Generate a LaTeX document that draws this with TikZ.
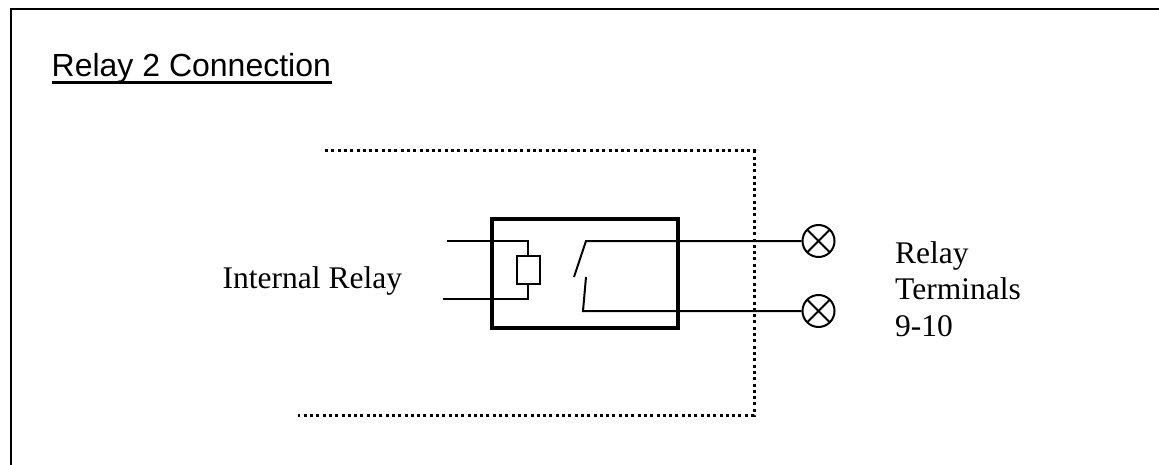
\documentclass[tikz,border=0pt]{standalone}
\usepackage{fontspec}
\setmainfont{Liberation Serif}
\newfontfamily\arialfont{Liberation Sans}
\begin{document}
\begin{tikzpicture}[x=1pt,y=-1pt,
  wire/.style={line width=2pt},
  framepen/.style={line width=2pt},
  relaybox/.style={line width=4.2pt},
  dotline/.style={line width=3pt,dash pattern=on 3pt off 3.3pt},
  terminal/.style={circle,draw,line width=2pt,minimum size=32pt,inner sep=0pt,
    path picture={\draw[line width=2pt]
      ([xshift=-13pt,yshift=13pt]path picture bounding box.center) -- ([xshift=13pt,yshift=-13pt]path picture bounding box.center)
      ([xshift=-13pt,yshift=-13pt]path picture bounding box.center) -- ([xshift=13pt,yshift=13pt]path picture bounding box.center);}},
  coil/.style={draw,line width=2pt,minimum width=23pt,minimum height=28pt,inner sep=0pt},
  label/.style={font=\fontsize{31.5}{36.5}\selectfont,inner sep=0pt,align=left}
]
\useasboundingbox (0,0) rectangle (1159,465);
% outer frame (top and left edges)
\coordinate (fbl) at (10.5,465);
\coordinate (ftl) at (10.5,9.5);
\coordinate (ftr) at (1159,9.5);
\draw[framepen] (fbl) -- (ftl) -- (ftr);
% title
\node[anchor=base west,inner sep=0pt,font=\arialfont\fontsize{32}{37}\selectfont] (title) at (51.5,77) {Relay 2 Connection};
\coordinate (ul1) at (51.5,82.5);
\coordinate (ul2) at (331.5,82.5);
\draw[line width=2.2pt] (ul1) -- (ul2);
% dotted enclosure
\coordinate (d1) at (325,151);
\coordinate (d2) at (754,151);
\coordinate (d3) at (754,415);
\coordinate (d4) at (298,415);
\draw[dotline] (d1) -- (d2) -- (d3) -- (d4);
% relay box
\coordinate (rb1) at (492,219);
\coordinate (rb2) at (678,328);
\draw[relaybox] (rb1) rectangle (rb2);
% coil
\node[coil] (coil) at (528,270) {};
\coordinate (cw1) at (447,241);
\coordinate (cw2) at (443,299);
\draw[wire] (cw1) -| (coil.north);
\draw[wire] (cw2) -| (coil.south);
% terminals
\node[terminal] (t1) at (818.5,241) {};
\node[terminal] (t2) at (818.5,311) {};
% switch contacts
\coordinate (s1a) at (574,277);
\coordinate (s1b) at (586,241);
\coordinate (s2a) at (586,277);
\coordinate (s2b) at (583,311);
\draw[wire] (s1a) -- (s1b) -- (t1.west);
\draw[wire] (s2a) -- (s2b) -- (t2.west);
% labels
\node[label,anchor=base west] (internal) at (222.5,288) {Internal Relay};
\node[label,anchor=base west] (term1) at (895,263) {Relay};
\node[label,anchor=base west] (term2) at (895,299.5) {Terminals};
\node[label,anchor=base west] (term3) at (895,336) {9-10};
\end{tikzpicture}
\end{document}
